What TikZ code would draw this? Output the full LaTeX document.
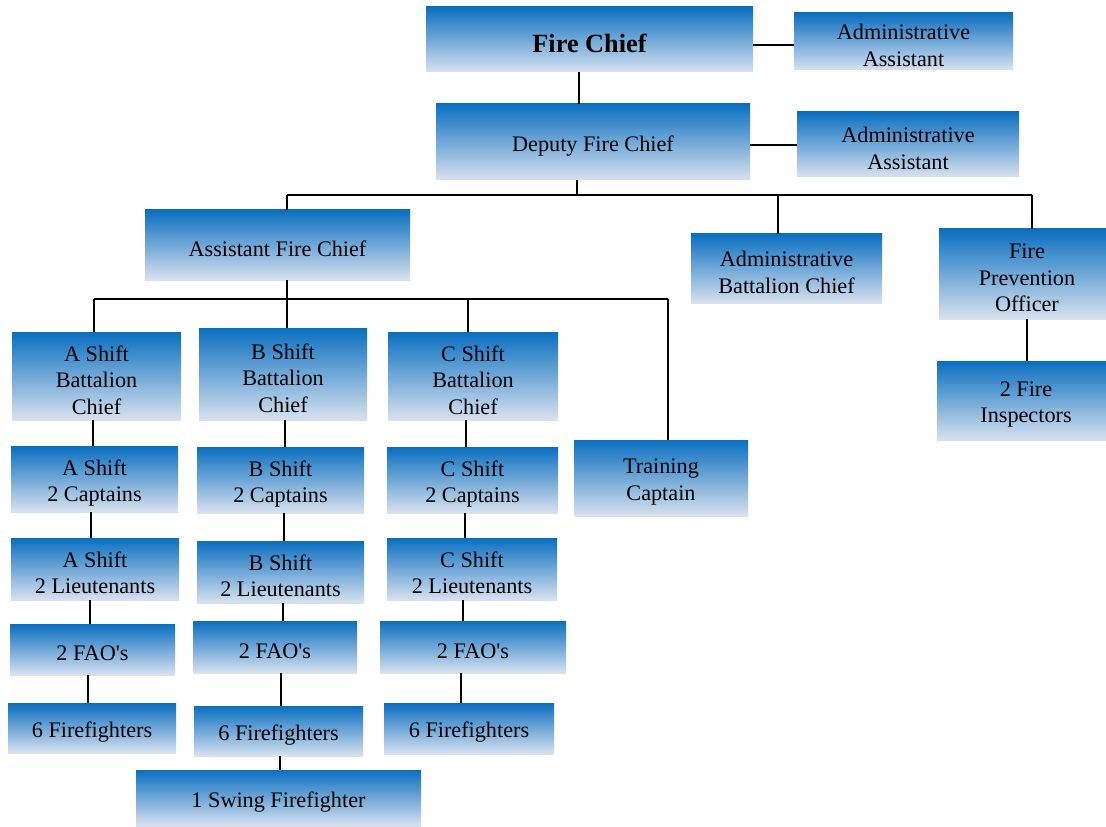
\documentclass[tikz,border=0pt]{standalone}
\usepackage{fontspec}
\setmainfont{Liberation Serif}

\definecolor{unitTop}{HTML}{0A6FC0}
\definecolor{unitBot}{HTML}{D8E2EF}

% box from its corners (left, top, right, bottom in px), text set a little low
\newcommand{\orgnode}[6]{%
  \node[unit, minimum width={(#4-#2)*0.025cm}, minimum height={(#5-#3)*0.025cm}]
    (#1) at ({(#2+#4)/2},{(#3+#5)/2}) {};
  \node[label] (#1-text) at ([yshift=-0.1cm]#1.center) {#6};}

\begin{document}
\begin{tikzpicture}[
        x=0.025cm, y=-0.025cm,
        font=\fontsize{15.8}{18.8}\selectfont,
        unit/.style={rectangle, inner sep=0pt,
            top color=unitTop, bottom color=unitBot},
        label/.style={inner sep=0pt, align=center},
        link/.style={line width=0.9pt},
        bus/.style={line width=1.3pt}
    ]
        \useasboundingbox (0,0) rectangle (1106,827);

        % top of the department
        \orgnode{chief}{426}{7}{753}{72}{\fontsize{18.7}{22}\selectfont\bfseries Fire Chief}
        \orgnode{aa1}{794}{13}{1013}{70}{Administrative\\Assistant}
        \orgnode{deputy}{436}{104}{750}{180}{Deputy Fire Chief}
        \orgnode{aa2}{797}{112}{1019}{177}{Administrative\\Assistant}

        \orgnode{asst}{145}{210}{410}{280}{Assistant Fire Chief}
        \orgnode{adminbc}{691}{234}{882}{303}{Administrative\\Battalion Chief}
        \orgnode{fpo}{939}{229}{1115}{319}{Fire\\Prevention\\Officer}
        \orgnode{insp}{937}{361}{1115}{440}{2 Fire\\Inspectors}

        % shifts
        \orgnode{abc}{12}{332}{181}{420}{A Shift\\Battalion\\Chief}
        \orgnode{bbc}{199}{328}{367}{420}{B Shift\\Battalion\\Chief}
        \orgnode{cbc}{388}{332}{558}{420}{C Shift\\Battalion\\Chief}
        \orgnode{train}{574}{440}{748}{516}{Training\\Captain}

        \orgnode{acap}{11}{446}{178}{512}{A Shift\\2 Captains}
        \orgnode{bcap}{197}{447}{364}{513}{B Shift\\2 Captains}
        \orgnode{ccap}{387}{447}{558}{513}{C Shift\\2 Captains}

        \orgnode{alt}{11}{538}{179}{600}{A Shift\\2 Lieutenants}
        \orgnode{blt}{197}{541}{364}{603}{B Shift\\2 Lieutenants}
        \orgnode{clt}{387}{538}{557}{600}{C Shift\\2 Lieutenants}

        \orgnode{afao}{10}{624}{175}{675}{2 FAO\textquotesingle s}
        \orgnode{bfao}{193}{621}{357}{673}{2 FAO\textquotesingle s}
        \orgnode{cfao}{380}{621}{566}{673}{2 FAO\textquotesingle s}

        \orgnode{aff}{8}{703}{176}{753}{6 Firefighters}
        \orgnode{bff}{194}{706}{363}{756}{6 Firefighters}
        \orgnode{cff}{384}{703}{554}{754}{6 Firefighters}

        \orgnode{swing}{136}{770}{421}{826}{1 Swing Firefighter}

        % connectors
        \draw[link] (chief.east |- 0,45) -- (aa1.west |- 0,45);
        \draw[link] (579,72) -- (deputy.north -| 579,0);
        \draw[link] (deputy.east |- 0,145) -- (aa2.west |- 0,145);

        \coordinate (busL) at (287,195);
        \coordinate (busR) at (1032,195);
        \draw[link] (deputy.south -| 577,0) -- (busL -| 577,0);
        \draw[bus] (busL) -- (busR);
        \draw[link] (busL) -- (busL |- asst.north);
        \draw[link] (busL -| 778,0) -- (adminbc.north -| 778,0);
        \draw[link] (busR) -- (busR |- fpo.north);
        \draw[link] (fpo.south -| 1027,0) -- (insp.north -| 1027,0);

        \coordinate (shiftL) at (94,299);
        \coordinate (shiftR) at (668,299);
        \draw[link] (asst.south -| 287,0) -- (shiftL -| 287,0);
        \draw[bus] (shiftL) -- (shiftR);
        \draw[link] (shiftL) -- (shiftL |- abc.north);
        \draw[link] (shiftL -| 287,0) -- (bbc.north -| 287,0);
        \draw[link] (shiftL -| 468,0) -- (cbc.north -| 468,0);
        \draw[link] (shiftR) -- (shiftR |- train.north);

        \draw[link] (abc.south -| 93,0) -- (acap.north -| 93,0);
        \draw[link] (acap.south -| 91,0) -- (alt.north -| 91,0);
        \draw[link] (alt.south -| 90,0) -- (afao.north -| 90,0);
        \draw[link] (afao.south -| 88,0) -- (aff.north -| 88,0);

        \draw[link] (bbc.south -| 285,0) -- (bcap.north -| 285,0);
        \draw[link] (bcap.south -| 284,0) -- (blt.north -| 284,0);
        \draw[link] (blt.south -| 283,0) -- (bfao.north -| 283,0);
        \draw[link] (bfao.south -| 281,0) -- (bff.north -| 281,0);
        \draw[link] (bff.south -| 280,0) -- (swing.north -| 280,0);

        \draw[link] (cbc.south -| 466,0) -- (ccap.north -| 466,0);
        \draw[link] (ccap.south -| 465,0) -- (clt.north -| 465,0);
        \draw[link] (clt.south -| 463,0) -- (cfao.north -| 463,0);
        \draw[link] (cfao.south -| 461,0) -- (cff.north -| 461,0);
    \end{tikzpicture}
\end{document}
